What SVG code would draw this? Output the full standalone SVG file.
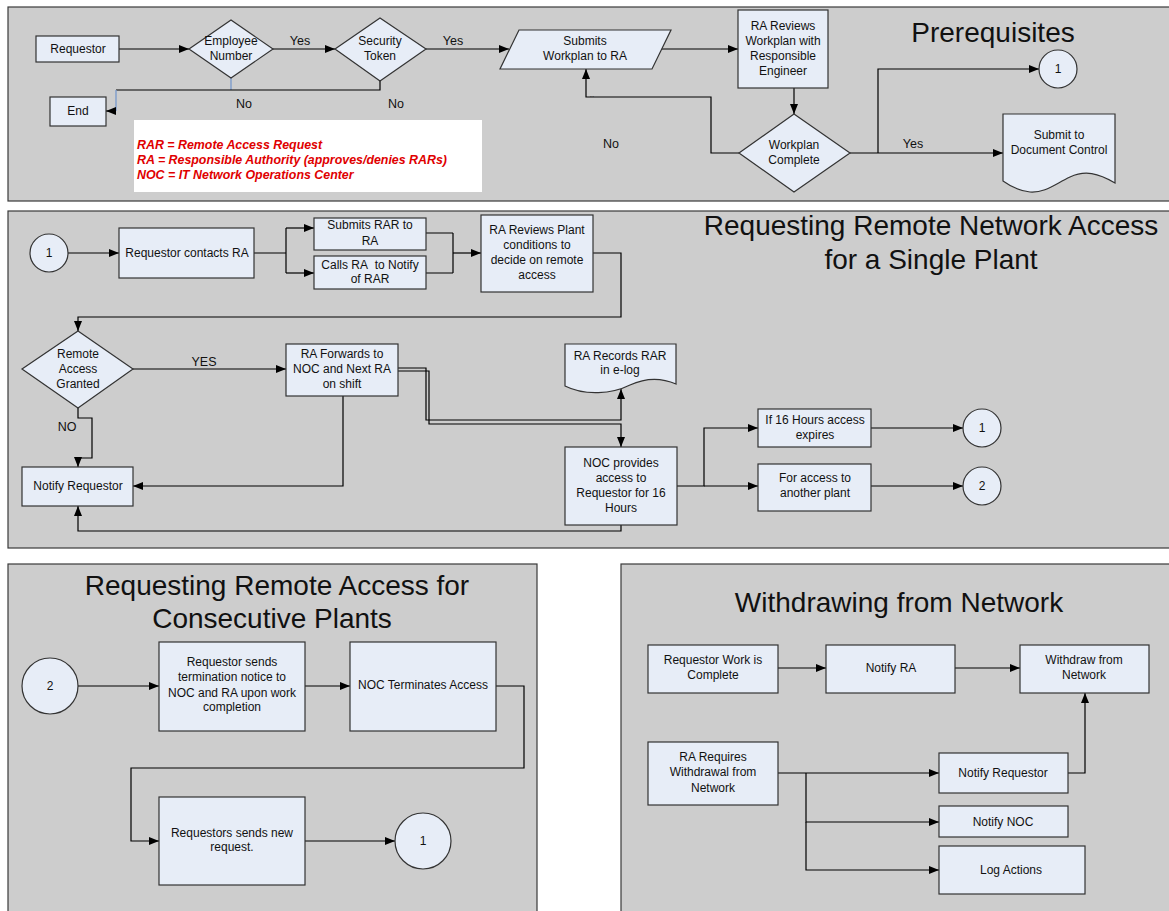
<svg xmlns="http://www.w3.org/2000/svg" width="1169" height="911" viewBox="0 0 1169 911">
<defs>
<marker id="ah" markerWidth="10" markerHeight="8" refX="10" refY="4" orient="auto" markerUnits="userSpaceOnUse"><path d="M0,0 L10,4 L0,8 z" fill="#000"/></marker>
<style>
.panel{fill:#cdcdcd;stroke:#3a3a3a;stroke-width:1.2}
.box{fill:#e7edf7;stroke:#333;stroke-width:1.2}
.circ{fill:#e7edf7;stroke:#333;stroke-width:1.2}
.c{fill:none;stroke:#000;stroke-width:1.2}
.cb{fill:none;stroke:#7d9ccc;stroke-width:1.4}
.a{marker-end:url(#ah)}
text{font-family:"Liberation Sans",Arial,sans-serif;fill:#111}
.t{font-size:12px;text-anchor:middle}
.l{font-size:12.5px}
.title{font-size:28px;text-anchor:middle}
.leg{font-size:12.4px;font-weight:bold;font-style:italic;fill:#e00000}
</style>
</defs>
<rect width="1169" height="911" fill="#fff"/>
<g id="panels">
<rect class="panel" x="8" y="7" width="1170" height="194"/>
<rect class="panel" x="8" y="211" width="1170" height="337"/>
<rect class="panel" x="8" y="564" width="529" height="360"/>
<rect class="panel" x="621" y="564" width="560" height="360"/>
</g>
<g id="titles">
<text class="title" x="993" y="42">Prerequisites</text>
<text class="title" x="931" y="235">Requesting Remote Network Access</text>
<text class="title" x="931" y="269">for a Single Plant</text>
<text class="title" x="277" y="595">Requesting Remote Access for</text>
<text class="title" x="272" y="628">Consecutive Plants</text>
<text class="title" x="899" y="612">Withdrawing from Network</text>
</g>
<g id="connectors">
<!-- panel 1 -->
<path class="c a" d="M119,49 H189"/>
<path class="c a" d="M273,49 H335"/>
<path class="c a" d="M426,49 H509"/>
<path class="c a" d="M661,49 H738"/>
<path class="c a" d="M794,88 V114"/>
<path class="c a" d="M739,153 H711 V97 H586 V69"/>
<path class="c a" d="M850,153 H1003"/>
<path class="c a" d="M878,153 V69 H1039"/>
<path class="cb" d="M231,78 V90"/>
<path class="c" d="M380,81 V90 H116"/>
<path class="cb" d="M116,90 V111"/>
<path class="c a" d="M116,111 H106"/>
<!-- panel 2 -->
<path class="c a" d="M68,253 H119"/>
<path class="c" d="M254,253 H286 M286,228 V273"/>
<path class="c a" d="M286,228 H314"/>
<path class="c a" d="M286,273 H314"/>
<path class="c" d="M426,233 H453 M426,273 H453 M453,233 V273"/>
<path class="c a" d="M453,253 H481"/>
<path class="c a" d="M593,253 H621 V317 H78 V331"/>
<path class="c a" d="M133,369 H286"/>
<path class="c a" d="M398,368 H426 V420 H621 V389"/>
<path class="c a" d="M398,371 H429 V424 H621 V447"/>
<path class="c a" d="M78,408 V418 H92 V458 H78 V467"/>
<path class="c a" d="M343,396 V486 H133"/>
<path class="c a" d="M621,525 V531 H78 V506"/>
<path class="c a" d="M677,486 H704 V428 H758"/>
<path class="c a" d="M704,486 H758"/>
<path class="c a" d="M871,428 H963"/>
<path class="c a" d="M871,486 H963"/>
<!-- panel 3 -->
<path class="c a" d="M78,686 H159"/>
<path class="c a" d="M305,686 H350"/>
<path class="c a" d="M496,686 H524 V768 H131 V841 H159"/>
<path class="c a" d="M305,841 H395"/>
<!-- panel 4 -->
<path class="c a" d="M778,668 H826"/>
<path class="c a" d="M955,668 H1020"/>
<path class="c a" d="M778,773 H939"/>
<path class="c a" d="M806,773 V822 H939"/>
<path class="c a" d="M806,822 V870 H939"/>
<path class="c a" d="M1068,773 H1085 V693"/>
</g>
<g id="labels">
<text class="l" x="300" y="45" text-anchor="middle">Yes</text>
<text class="l" x="453" y="45" text-anchor="middle">Yes</text>
<text class="l" x="244" y="108" text-anchor="middle">No</text>
<text class="l" x="396" y="108" text-anchor="middle">No</text>
<text class="l" x="611" y="148" text-anchor="middle">No</text>
<text x="592" y="101" font-size="7" text-anchor="middle">``</text>
<text class="l" x="913" y="148" text-anchor="middle">Yes</text>
<text class="l" x="204" y="366" text-anchor="middle">YES</text>
<text class="l" x="67" y="431" text-anchor="middle">NO</text>
</g>
<g id="legend">
<rect x="134" y="120" width="348" height="72" fill="#fff"/>
<text class="leg" x="137" y="149">RAR = Remote Access Request</text>
<text class="leg" x="137" y="164">RA = Responsible Authority (approves/denies RARs)</text>
<text class="leg" x="137" y="179">NOC = IT Network Operations Center</text>
</g>
<g id="n-requestor"><rect class="box" x="36" y="36" width="83" height="26"/><text class="t" x="78" y="53">Requestor</text></g>
<g id="n-employee"><polygon class="box" points="189,49 231,20 273,49 231,78"/><text class="t" x="231" y="45">Employee</text><text class="t" x="231" y="60">Number</text></g>
<g id="n-security"><polygon class="box" points="335,49 380,18 426,49 380,81"/><text class="t" x="380" y="45">Security</text><text class="t" x="380" y="60">Token</text></g>
<g id="n-end"><rect class="box" x="50" y="97" width="56" height="29"/><text class="t" x="78" y="115">End</text></g>
<g id="n-submits-workplan"><polygon class="box" points="519,30 671,30 652,69 500,69"/><text class="t" x="585" y="45">Submits</text><text class="t" x="585" y="60">Workplan to RA</text></g>
<g id="n-ra-reviews"><rect class="box" x="738" y="10" width="90" height="78"/><text class="t" x="783" y="30">RA Reviews</text><text class="t" x="783" y="45">Workplan with</text><text class="t" x="783" y="60">Responsible</text><text class="t" x="783" y="75">Engineer</text></g>
<g id="n-workplan-complete"><polygon class="box" points="739,153 794,114 850,153 794,192"/><text class="t" x="794" y="149">Workplan</text><text class="t" x="794" y="164">Complete</text></g>
<g id="n-p1-c1"><circle class="circ" cx="1058" cy="69" r="19"/><text class="t" x="1058" y="73">1</text></g>
<g id="n-doc-control"><path class="box" d="M1003,114 H1115 V183 C1098,173 1085,170 1070,177 C1055,184 1045,193 1030,192 C1018,191 1010,186 1003,181 Z"/><text class="t" x="1059" y="139">Submit to</text><text class="t" x="1059" y="154">Document Control</text></g>
<g id="n-p2-c1"><circle class="circ" cx="49" cy="253" r="19"/><text class="t" x="49" y="257">1</text></g>
<g id="n-contacts"><rect class="box" x="119" y="228" width="135" height="50"/><text class="t" x="187" y="257">Requestor contacts RA</text></g>
<g id="n-submits-rar"><rect class="box" x="314" y="218" width="112" height="32"/><text class="t" x="370" y="229">Submits RAR to</text><text class="t" x="370" y="245">RA</text></g>
<g id="n-calls-ra"><rect class="box" x="314" y="256" width="112" height="33"/><text class="t" x="370" y="269">Calls RA&#160; to Notify</text><text class="t" x="370" y="283">of RAR</text></g>
<g id="n-ra-plant"><rect class="box" x="481" y="215" width="112" height="77"/><text class="t" x="537" y="234">RA Reviews Plant</text><text class="t" x="537" y="249">conditions to</text><text class="t" x="537" y="264">decide on remote</text><text class="t" x="537" y="279">access</text></g>
<g id="n-granted"><polygon class="box" points="22,369 78,331 133,369 78,408"/><text class="t" x="78" y="358">Remote</text><text class="t" x="78" y="373">Access</text><text class="t" x="78" y="388">Granted</text></g>
<g id="n-forwards"><rect class="box" x="286" y="344" width="112" height="52"/><text class="t" x="342" y="358">RA Forwards to</text><text class="t" x="342" y="373">NOC and Next RA</text><text class="t" x="342" y="388">on shift</text></g>
<g id="n-records"><path class="box" d="M565,344 H676 V384 C660,377 645,378 630,385 C612,394 585,396 565,386 Z"/><text class="t" x="620" y="360">RA Records RAR</text><text class="t" x="620" y="374">in e-log</text></g>
<g id="n-noc-provides"><rect class="box" x="565" y="447" width="112" height="78"/><text class="t" x="621" y="467">NOC provides</text><text class="t" x="621" y="482">access to</text><text class="t" x="621" y="497">Requestor for 16</text><text class="t" x="621" y="512">Hours</text></g>
<g id="n-notify-req-2"><rect class="box" x="22" y="467" width="111" height="39"/><text class="t" x="78" y="490">Notify Requestor</text></g>
<g id="n-expires"><rect class="box" x="758" y="409" width="113" height="38"/><text class="t" x="815" y="424">If 16 Hours access</text><text class="t" x="815" y="439">expires</text></g>
<g id="n-another"><rect class="box" x="758" y="464" width="113" height="47"/><text class="t" x="815" y="482">For access to</text><text class="t" x="815" y="497">another plant</text></g>
<g id="n-p2-c1b"><circle class="circ" cx="982" cy="428" r="19"/><text class="t" x="982" y="432">1</text></g>
<g id="n-p2-c2"><circle class="circ" cx="982" cy="486" r="19"/><text class="t" x="982" y="490">2</text></g>
<g id="n-p3-c2"><circle class="circ" cx="50" cy="686" r="28"/><text class="t" x="50" y="690">2</text></g>
<g id="n-termination"><rect class="box" x="159" y="642" width="146" height="89"/><text class="t" x="232" y="666">Requestor sends</text><text class="t" x="232" y="681">termination notice to</text><text class="t" x="232" y="697">NOC and RA upon work</text><text class="t" x="232" y="711">completion</text></g>
<g id="n-noc-terminates"><rect class="box" x="350" y="642" width="146" height="89"/><text class="t" x="423" y="689">NOC Terminates Access</text></g>
<g id="n-new-request"><rect class="box" x="159" y="797" width="146" height="88"/><text class="t" x="232" y="837">Requestors sends new</text><text class="t" x="232" y="851">request.</text></g>
<g id="n-p3-c1"><circle class="circ" cx="423" cy="841" r="28"/><text class="t" x="423" y="845">1</text></g>
<g id="n-work-complete"><rect class="box" x="648" y="645" width="130" height="48"/><text class="t" x="713" y="664">Requestor Work is</text><text class="t" x="713" y="679">Complete</text></g>
<g id="n-notify-ra"><rect class="box" x="826" y="645" width="129" height="48"/><text class="t" x="891" y="672">Notify RA</text></g>
<g id="n-withdraw"><rect class="box" x="1020" y="645" width="129" height="48"/><text class="t" x="1084" y="664">Withdraw from</text><text class="t" x="1084" y="679">Network</text></g>
<g id="n-ra-requires"><rect class="box" x="648" y="742" width="130" height="63"/><text class="t" x="713" y="761">RA Requires</text><text class="t" x="713" y="776">Withdrawal from</text><text class="t" x="713" y="792">Network</text></g>
<g id="n-notify-req-4"><rect class="box" x="939" y="753" width="129" height="40"/><text class="t" x="1003" y="777">Notify Requestor</text></g>
<g id="n-notify-noc"><rect class="box" x="939" y="806" width="129" height="31"/><text class="t" x="1003" y="826">Notify NOC</text></g>
<g id="n-log"><rect class="box" x="939" y="846" width="146" height="48"/><text class="t" x="1011" y="874">Log Actions</text></g>
</svg>
